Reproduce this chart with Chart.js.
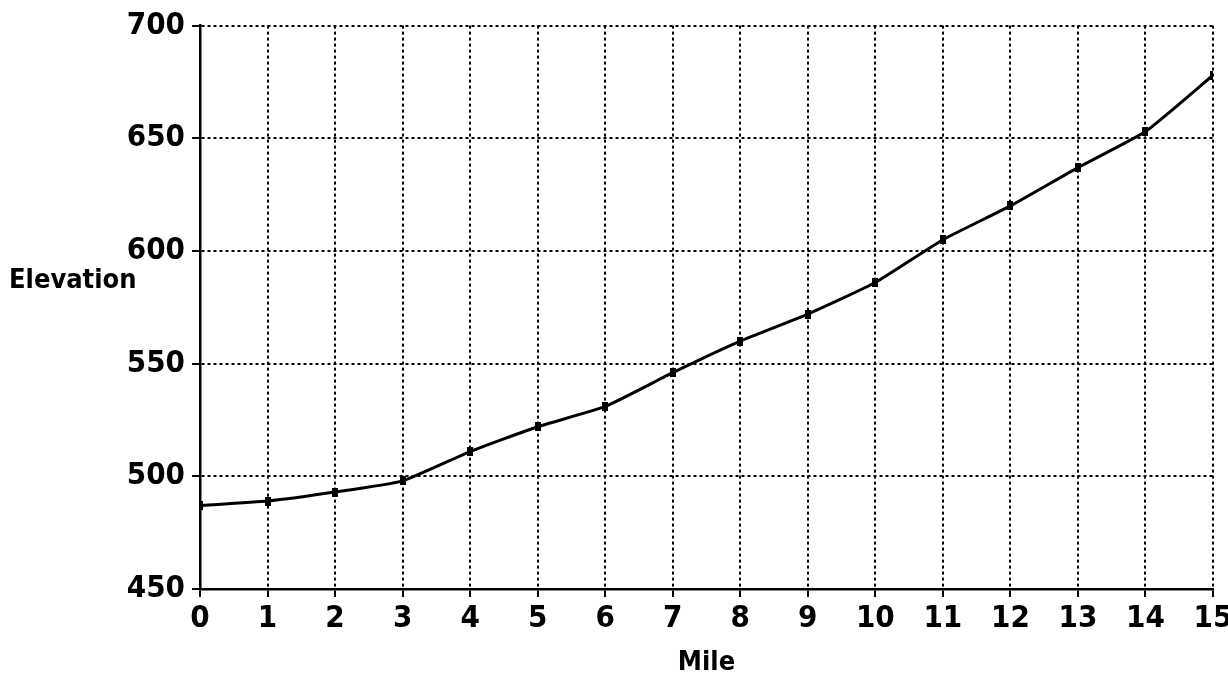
<!DOCTYPE html>
<html>
<head>
<meta charset="utf-8">
<script src="https://cdn.jsdelivr.net/npm/chart.js@4"></script>
<style>
  html, body { margin: 0; padding: 0; background: #fff; }
  #wrap { width: 1228px; height: 679px; }
</style>
</head>
<body>
<div id="wrap"><canvas id="myChart"></canvas></div>
<script>
const miles = [0, 1, 2, 3, 4, 5, 6, 7, 8, 9, 10, 11, 12, 13, 14, 15];
const elevation = [487, 489, 493, 498, 511, 522, 531, 546, 560, 572, 586, 605, 620, 637, 653, 678];
const xTicks = [0, 1, 2, 3, 4, 5, 6, 7, 8, 9, 10, 11, 12, 13, 14, 15];
const yTicks = [450, 500, 550, 600, 650, 700];

const fontFamily = "'DejaVu Sans Condensed', 'DejaVu Sans', sans-serif";

// small upright block used as the point marker
const marker = document.createElement("canvas");
marker.width = 6;
marker.height = 9;
const mctx = marker.getContext("2d");
mctx.fillStyle = "#000";
mctx.fillRect(0, 0, 6, 9);

// y axis title is horizontal in the original, so draw it by hand
const sideTitle = {
  id: "sideTitle",
  afterDraw(chart) {
    const c = chart.ctx;
    c.save();
    c.fillStyle = "#000";
    c.font = "bold 27px " + fontFamily;
    c.textAlign = "left";
    c.textBaseline = "middle";
    c.fillText("Elevation", 9, 281);
    c.restore();
  },
};

const ctx = document.getElementById("myChart");
const myChart = new Chart(ctx, {
  type: "line",
  data: {
    labels: miles,
    datasets: [
      {
        label: "Elevation",
        data: miles.map((m, i) => ({ x: m, y: elevation[i] })),
        borderColor: "#000",
        backgroundColor: "#000",
        borderWidth: 3,
        tension: 0.15,
        pointStyle: marker,
        pointRadius: 4,
        pointBorderWidth: 0,
      },
    ],
  },
  plugins: [sideTitle],
  options: {
    responsive: true,
    maintainAspectRatio: false,
    animation: false,
    layout: { padding: { top: 25, right: 0, left: 0, bottom: 0 } },
    plugins: {
      legend: { display: false },
      tooltip: { enabled: false },
    },
    scales: {
      x: {
        type: "linear",
        min: 0,
        max: 15,
        afterBuildTicks: (scale) => {
          scale.ticks = xTicks.map((v) => ({ value: v }));
        },
        afterFit: (scale) => {
          scale.height = 90;
          scale.paddingLeft = 0;
          scale.paddingRight = 15;
        },
        grid: {
          color: "#000",
          lineWidth: 2,
          tickLength: 8,
          tickColor: "#000",
          tickWidth: 2,
        },
        border: { display: true, color: "#000", width: 2.5, dash: [3, 3] },
        ticks: {
          color: "#000",
          padding: 3,
          maxRotation: 0,
          font: { family: fontFamily, size: 31, weight: "bold" },
        },
        title: {
          display: true,
          text: "Mile",
          color: "#000",
          padding: { top: 2, bottom: 0 },
          font: { family: fontFamily, size: 27, weight: "bold" },
        },
      },
      y: {
        type: "linear",
        min: 450,
        max: 700,
        afterBuildTicks: (scale) => {
          scale.ticks = yTicks.map((v) => ({ value: v }));
        },
        afterFit: (scale) => {
          scale.width = 200;
        },
        grid: {
          color: "#000",
          lineWidth: 2,
          tickLength: 8,
          tickColor: "#000",
          tickWidth: 2,
        },
        border: { display: true, color: "#000", width: 2.5, dash: [3, 3] },
        ticks: {
          color: "#000",
          padding: 7,
          font: { family: fontFamily, size: 31, weight: "bold" },
        },
      },
    },
  },
});
</script>
</body>
</html>
